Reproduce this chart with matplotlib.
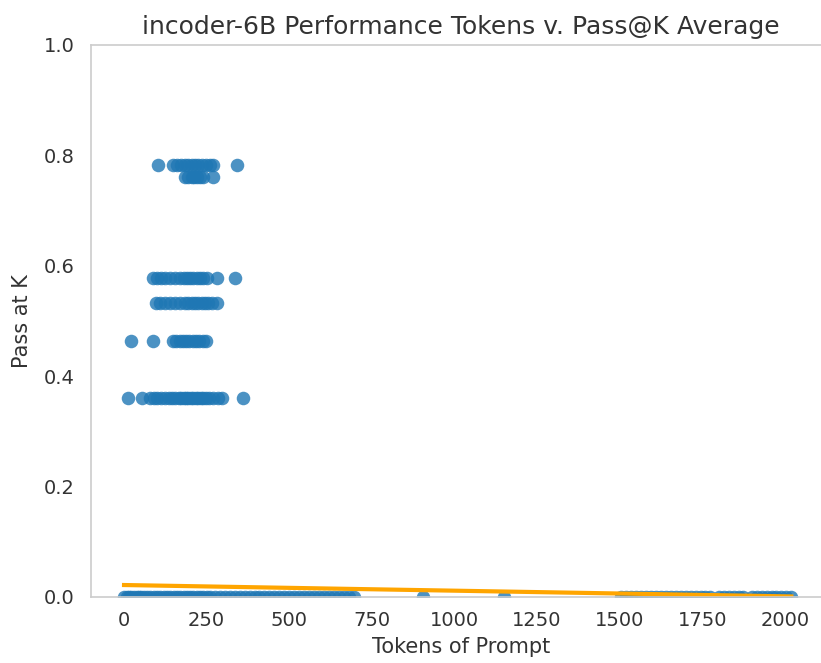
import numpy as np
import matplotlib
matplotlib.use("Agg")
import matplotlib.pyplot as plt

# tokens of prompt / pass@k average
x_zero = [0, 8, 15, 22, 30, 38, 45, 52, 60, 70, 80, 90, 100, 110, 120, 130, 140,
          150, 160, 170, 180, 190, 200, 210, 220, 230, 240, 250, 260, 275, 290,
          305, 320, 335, 350, 365, 380, 395, 410, 425, 440, 455, 470, 485, 500,
          515, 530, 545, 560, 575, 590, 605, 620, 635, 650, 665, 680, 695,
          905, 1150,
          1505, 1520, 1535, 1550, 1565, 1580, 1595, 1610, 1625, 1640, 1655, 1670,
          1685, 1700, 1715, 1730, 1745, 1760, 1775, 1800, 1815, 1830, 1845,
          1860, 1875, 1900, 1915, 1930, 1945, 1960, 1975, 1990, 2005, 2018]
x_361 = [11, 54, 79, 90, 100, 112, 125, 135, 145, 155, 165, 172, 180, 188, 195,
         202, 210, 218, 225, 232, 240, 248, 258, 270, 285, 296, 361]
x_464 = [20, 89, 148, 158, 168, 178, 188, 198, 208, 218, 228, 238, 248]
x_533 = [97, 110, 125, 140, 155, 170, 185, 195, 205, 215, 225, 235, 245, 255,
         265, 282]
x_578 = [88, 100, 112, 125, 140, 155, 170, 180, 190, 200, 210, 220, 230, 240,
         250, 282, 337]
x_761 = [185, 195, 205, 212, 220, 230, 240, 270]
x_783 = [102, 148, 160, 172, 185, 195, 205, 215, 225, 235, 248, 260, 270, 341]

levels = {0.0: x_zero, 0.361: x_361, 0.464: x_464, 0.533: x_533,
          0.578: x_578, 0.761: x_761, 0.783: x_783}

# fitted trend line
fit_x = [0, 2020]
fit_y = [0.0217, 0.001]

xs = []
ys = []
for yv, xl in levels.items():
    xs += xl
    ys += [yv] * len(xl)

plt.rcParams['font.family'] = ['DejaVu Sans']
fig = plt.figure(figsize=(8.21, 6.63), dpi=100)
ax = fig.add_axes([91 / 821, 66 / 663, 740 / 821, 552 / 663])

ax.scatter(xs, ys, s=95, color='#1f77b4', alpha=0.8, linewidths=0)
ax.plot(fit_x, fit_y, color='orange', lw=3)

ax.set_xlim(-100, 2140)
ax.set_ylim(0, 1)
ax.set_xticks([0, 250, 500, 750, 1000, 1250, 1500, 1750, 2000])
ax.set_yticks([0.0, 0.2, 0.4, 0.6, 0.8, 1.0])

for side in ['left', 'bottom', 'top']:
    ax.spines[side].set_color('#cccccc')
    ax.spines[side].set_linewidth(1.2)
ax.spines['right'].set_visible(False)
ax.tick_params(length=0, labelsize=14, colors='#333333')
ax.tick_params(axis='x', pad=10)
ax.tick_params(axis='y', pad=12)

ax.set_xlabel('Tokens of Prompt', fontsize=15, color='#333333', labelpad=5)
ax.set_ylabel('Pass at K', fontsize=15, color='#333333', labelpad=8)
ax.set_title('incoder-6B Performance Tokens v. Pass@K Average', fontsize=18,
             color='#333333', pad=8)

fig.savefig('out.png', dpi=100)
